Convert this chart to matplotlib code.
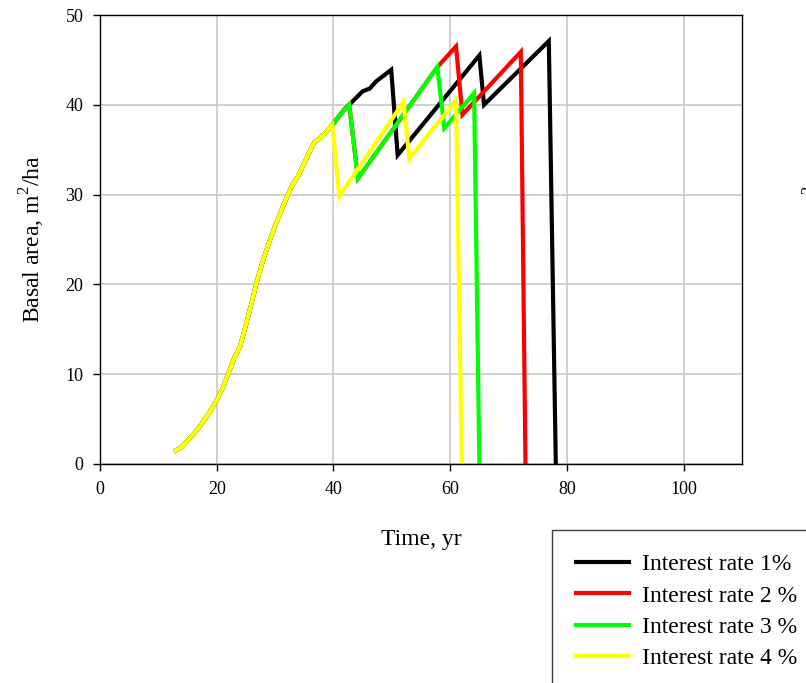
import matplotlib
matplotlib.use("Agg")
import matplotlib.pyplot as plt

plt.rcParams["font.family"] = "Liberation Serif"
plt.rcParams["mathtext.fontset"] = "custom"
plt.rcParams["mathtext.rm"] = "Liberation Serif"

# --- Croissance commune avant la premiere eclaircie ---
t_common = [13, 14, 15, 16, 17, 18, 19, 20, 21, 22, 23, 24, 25, 26, 27, 28, 29, 30,
            31, 32, 33, 34, 35, 36, 36.8, 37.6, 38.8, 39.8]
ba_common = [1.5, 1.9, 2.6, 3.3, 4.1, 5.0, 6.0, 7.1, 8.4, 10.1, 11.8, 13.1, 15.5, 18.0,
             20.6, 22.8, 24.7, 26.5, 28.1, 29.7, 31.1, 32.1, 33.5, 34.9, 35.9, 36.2,
             37.0, 37.75]

# --- Suite par taux d'interet (eclaircies puis coupe rase) ---
t_r1 = [41.9, 43.0, 45.0, 46.2, 47.3, 49.9, 51.0, 65.0, 65.8, 76.9, 78.1]
ba_r1 = [39.5, 40.2, 41.5, 41.8, 42.6, 43.9, 34.4, 45.5, 40.0, 47.1, 0]

t_r2 = [41.9, 42.7, 44.2, 57.8, 61.0, 62.1, 72.1, 72.9]
ba_r2 = [39.5, 40.0, 31.8, 44.2, 46.5, 38.9, 45.9, 0]

t_r3 = [41.9, 42.7, 44.2, 57.8, 59.0, 64.1, 65.0]
ba_r3 = [39.5, 40.0, 31.8, 44.2, 37.4, 41.3, 0]

t_r4 = [41.0, 52.0, 53.0, 61.0, 62.0]
ba_r4 = [29.8, 40.3, 34.0, 40.5, 0]

labels = ["Interest rate 1%", "Interest rate 2 %", "Interest rate 3 %", "Interest rate 4 %"]
colors = ["#000000", "#ff0000", "#00ff00", "#ffff00"]
tails = [(t_r1, ba_r1), (t_r2, ba_r2), (t_r3, ba_r3), (t_r4, ba_r4)]

fig = plt.figure(figsize=(8.06, 6.83), dpi=100)
ax = fig.add_axes([100 / 806, 1 - 464 / 683, 642 / 806, 449 / 683])

for (t_tail, ba_tail), col, lab in zip(tails, colors, labels):
    ax.plot(t_common + t_tail, ba_common + ba_tail, color=col, linewidth=3.0,
            label=lab, solid_joinstyle="miter")

ax.set_xlim(0, 110)
ax.set_ylim(0, 50)
ax.set_xticks([0, 20, 40, 60, 80, 100])
ax.set_yticks([0, 10, 20, 30, 40, 50])
ax.grid(True, color="#c8c8c8", linewidth=1.2)
ax.set_axisbelow(True)
ax.tick_params(direction="out", length=5, width=1, labelsize=13, pad=7)
for sp in ax.spines.values():
    sp.set_linewidth(1.0)

ylab = "Basal area, m$^\\mathrm{2}$/ha"
ax.set_xlabel("Time, yr", fontsize=17)
ax.xaxis.set_label_coords(0.5, -0.145)
ax.set_ylabel(ylab, fontsize=17)
ax.yaxis.set_label_coords(-0.082, 0.5)

# libelle du graphique voisin, coupe par le bord droit
fig.text(824 / 806, 1 - 239.5 / 683, ylab, fontsize=17, rotation=90,
         rotation_mode="anchor", ha="center", va="baseline")

fig.legend(loc="upper left", bbox_to_anchor=(552 / 806, 1 - 530 / 683),
           bbox_transform=fig.transFigure, fontsize=17, frameon=True,
           fancybox=False, edgecolor="#404040", framealpha=1,
           handlelength=2.25, handletextpad=0.55, labelspacing=0.42,
           borderpad=1.0, borderaxespad=0)

fig.savefig("out.png", dpi=100)
